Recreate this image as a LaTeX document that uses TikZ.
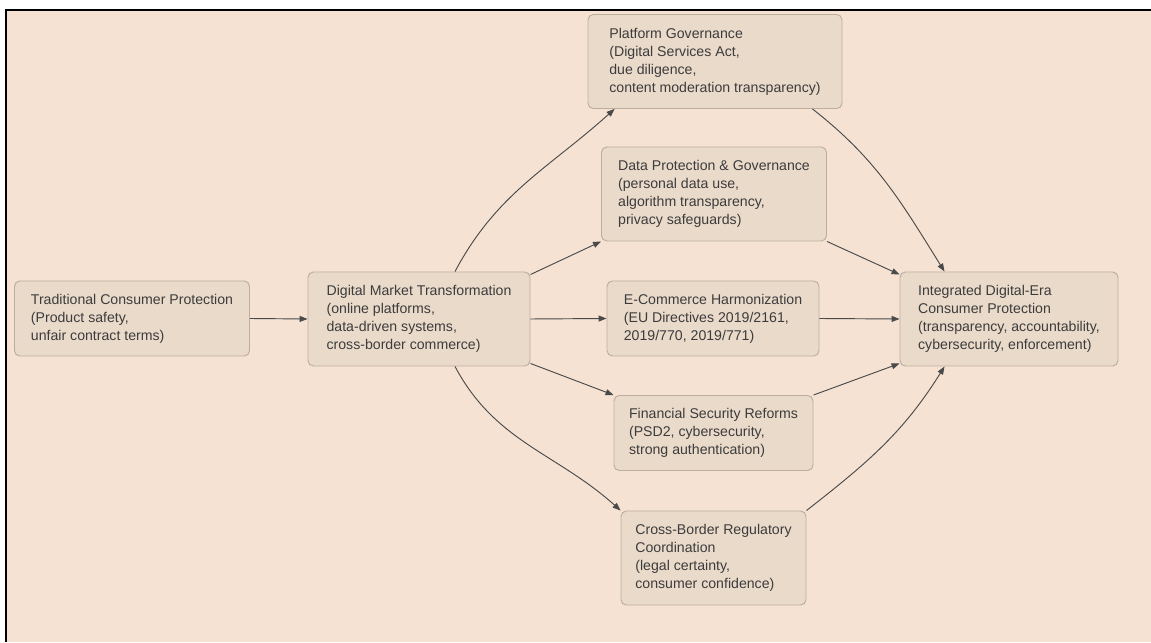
\documentclass[tikz,border=0pt]{standalone}
\usepackage{fontspec}
\setmainfont{Liberation Sans}
\usetikzlibrary{calc,arrows.meta}
\definecolor{bgbeige}{HTML}{F5E2D2}
\definecolor{boxfill}{HTML}{EADACA}
\definecolor{boxline}{HTML}{BDAD9D}
\definecolor{txtgray}{HTML}{3C3C3C}
\definecolor{arrgray}{HTML}{4A4A4A}
\newlength{\unitpx}
\setlength{\unitpx}{0.75pt}

\begin{document}
\begin{tikzpicture}[x=0.75pt,y=0.75pt]
\tikzstyle{box}=[draw=boxline, fill=boxfill, line width=0.7pt, rounded corners=4pt,
  align=left, text=txtgray, inner sep=0pt, minimum height=75\unitpx,
  font=\fontsize{10.6}{13.5}\selectfont]
\tikzstyle{tall}=[minimum height=94\unitpx]
\tikzstyle{arr}=[draw=arrgray, line width=0.7pt, -{Triangle[length=6pt,width=4.5pt]}]
\useasboundingbox (0,0) rectangle (1151,642);
\fill [white] (0,0) rectangle (1151,642);
\fill [bgbeige] (6,0) rectangle (1151,632);
\draw [black, line width=1.5pt] (6,0) -- (6,632) -- (1151,632);
\node [box, minimum width=235\unitpx] (trad) at (132,323.5) {Traditional Consumer Protection\\(Product safety,\\unfair contract terms)};
\node [box, tall, minimum width=222\unitpx] (dmt) at (419,323) {Digital Market Transformation\\(online platforms,\\data-driven systems,\\cross-border commerce)};
\node [box, tall, minimum width=254\unitpx] (plat) at (715,580.5) {Platform Governance\\(Digital Services Act,\\due diligence,\\content moderation transparency)};
\node [box, tall, minimum width=225\unitpx] (data) at (714,448) {Data Protection \& Governance\\(personal data use,\\algorithm transparency,\\privacy safeguards)};
\node [box, minimum width=212\unitpx] (ecom) at (713,323.5) {E-Commerce Harmonization\\(EU Directives 2019/2161,\\2019/770, 2019/771)};
\node [box, minimum width=199\unitpx] (fin) at (713.5,209) {Financial Security Reforms\\(PSD2, cybersecurity,\\strong authentication)};
\node [box, tall, minimum width=185\unitpx] (cross) at (713.5,84) {Cross-Border Regulatory\\Coordination\\(legal certainty,\\consumer confidence)};
\node [box, tall, minimum width=218\unitpx] (integ) at (1009,323) {Integrated Digital-Era\\Consumer Protection\\(transparency, accountability,\\cybersecurity, enforcement)};
\draw [arr] (trad.east) -- (dmt.west);
\draw [arr] ($(dmt.north)+(36,0)$) to [out=62, in=222] ($(plat.south west)+(27,0)$);
\draw [arr] ($(dmt.north east)+(0,-3)$) -- (data.south west);
\draw [arr] (dmt.east) -- (ecom.west);
\draw [arr] ($(dmt.south east)+(0,3)$) -- (fin.north west);
\draw [arr] ($(dmt.south)+(36,0)$) to [out=-62, in=138] (cross.north west);
\draw [arr] ($(plat.south east)+(-30,0)$) to [out=-38, in=122] ($(integ.north west)+(45,0)$);
\draw [arr] (data.south east) -- ($(integ.north west)+(0,-3)$);
\draw [arr] (ecom.east) -- (integ.west);
\draw [arr] (fin.north east) -- ($(integ.south west)+(0,3)$);
\draw [arr] (cross.north east) to [out=38, in=-122] ($(integ.south west)+(45,0)$);
\end{tikzpicture}
\end{document}
